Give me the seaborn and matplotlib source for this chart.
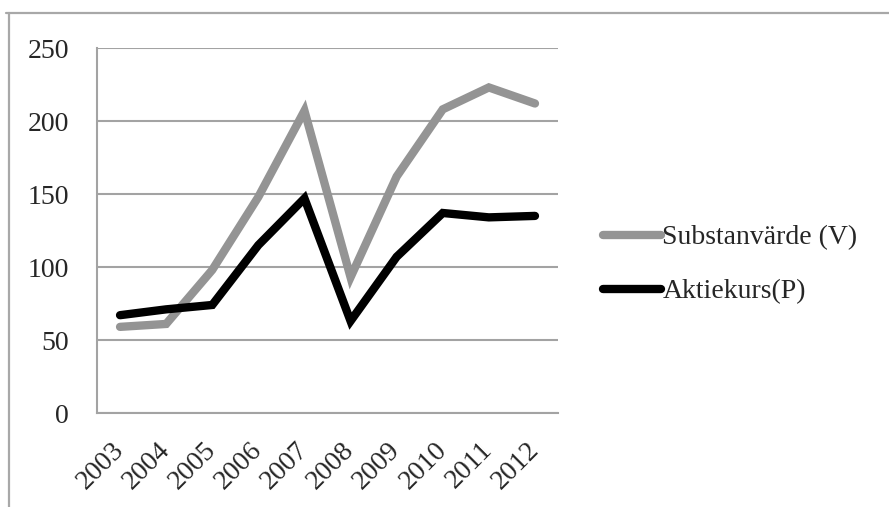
import matplotlib
matplotlib.use("Agg")
import matplotlib.pyplot as plt
from matplotlib.lines import Line2D
from matplotlib.transforms import ScaledTranslation
import seaborn as sns
import pandas as pd

years = ["2003", "2004", "2005", "2006", "2007", "2008", "2009", "2010", "2011", "2012"]
substansvarde = [59, 61, 98, 148, 207, 93, 162, 208, 223, 212]
aktiekurs = [67, 71, 74, 115, 147, 63, 107, 137, 134, 135]
series_names = ["Substanvärde (V)", "Aktiekurs(P)"]
y_ticks = [0, 50, 100, 150, 200, 250]

sns.set_style("white")
plt.rcParams["font.family"] = ["Liberation Serif", "DejaVu Serif"]

df = pd.DataFrame({
    "year": years * 2,
    "value": substansvarde + aktiekurs,
    "series": [series_names[0]] * len(years) + [series_names[1]] * len(years),
})
df["x"] = list(range(len(years))) * 2

grid_col = "#a3a3a3"
palette = {series_names[0]: "#949494", series_names[1]: "#000000"}
lw = 6.0

fig = plt.figure(figsize=(8.89, 5.07), dpi=100)
ax = fig.add_axes([0.1091, 0.1854, 0.6277 - 0.1091, 0.9053 - 0.1854])

sns.lineplot(data=df, x="x", y="value", hue="series", palette=palette,
             linewidth=lw, ax=ax, legend=False, sort=False,
             solid_capstyle="round", solid_joinstyle="miter")

ax.set_xlim(-0.5, len(years) - 0.5)
ax.set_ylim(0, 250)
ax.set_yticks(y_ticks)
ax.set_yticklabels([str(t) for t in y_ticks], fontsize=20)
ax.yaxis.grid(True, color=grid_col, linewidth=1.5)
ax.set_axisbelow(True)

# category boundaries carry the tick marks, labels sit at category centres
ax.set_xticks([i - 0.5 for i in range(len(years) + 1)])
ax.set_xticklabels([])
ax.set_xticks(range(len(years)), minor=True)
ax.set_xticklabels(years, minor=True, rotation=45, ha="right",
                   rotation_mode="anchor", va="center", fontsize=20)
shift = ScaledTranslation(4 / 100, 0, fig.dpi_scale_trans)
for lbl in ax.get_xticklabels(minor=True):
    lbl.set_transform(lbl.get_transform() + shift)
ax.tick_params(axis="x", which="major", length=7, width=1.5, color=grid_col, direction="out")
ax.tick_params(axis="x", which="minor", length=0, pad=24)
ax.tick_params(axis="y", length=7, width=1.5, color=grid_col, direction="out", pad=13)
ax.set_xlabel("")
ax.set_ylabel("")

for side in ["top", "right"]:
    ax.spines[side].set_visible(False)
for side in ["left", "bottom"]:
    ax.spines[side].set_color(grid_col)
    ax.spines[side].set_linewidth(1.5)

handles = [Line2D([0], [0], color=palette[n], linewidth=lw, solid_capstyle="round")
           for n in series_names]
fig.legend(handles, series_names, loc="center left", bbox_to_anchor=(0.678, 0.478),
           frameon=False, fontsize=20, handlelength=2.1, handletextpad=0.05,
           labelspacing=1.02, borderaxespad=0, borderpad=0)

# outer chart-area border (top and left edges)
fig.add_artist(Line2D([6 / 889, 1.0], [1 - 13 / 507, 1 - 13 / 507],
                      transform=fig.transFigure, color="#a8a8a8", linewidth=1.6))
fig.add_artist(Line2D([9 / 889, 9 / 889], [0, 1 - 13 / 507],
                      transform=fig.transFigure, color="#a8a8a8", linewidth=1.6))

fig.savefig("out.png", dpi=100)
